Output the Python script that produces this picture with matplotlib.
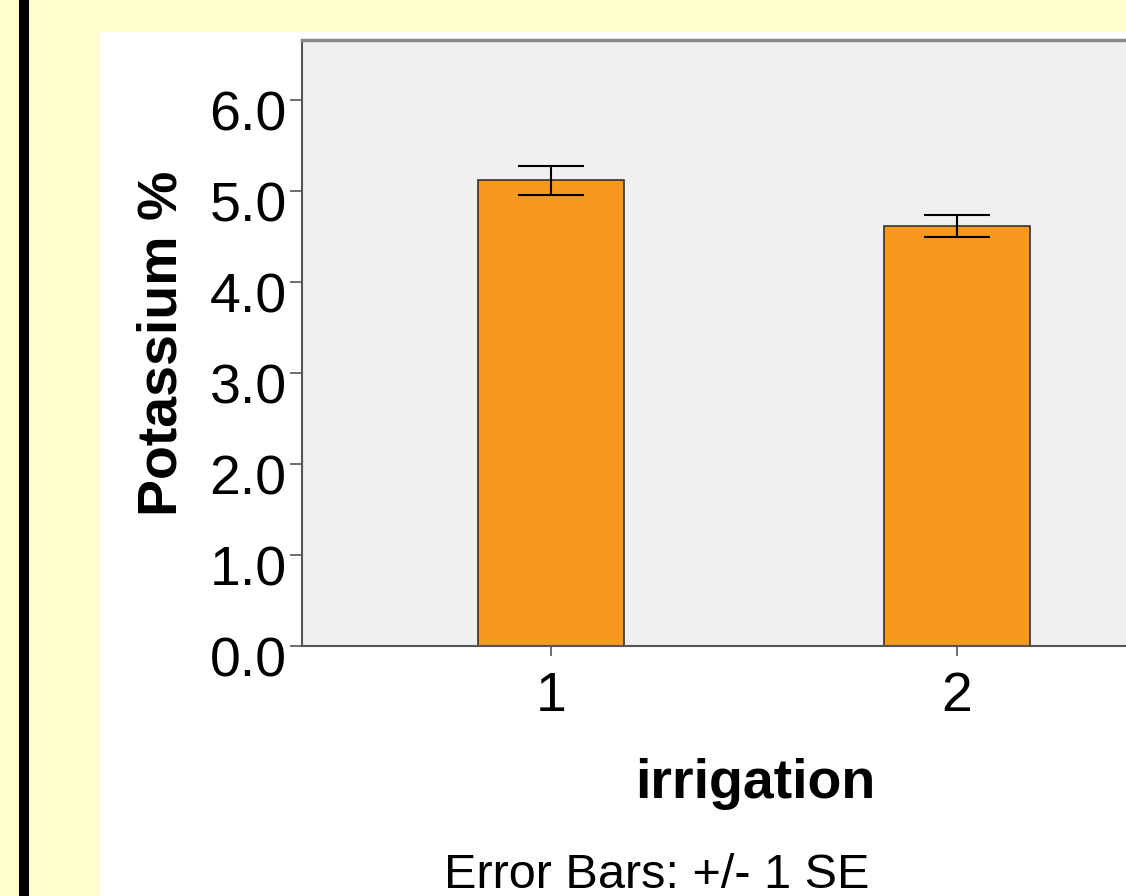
import matplotlib
matplotlib.use("Agg")
import matplotlib.pyplot as plt
from matplotlib.patches import Rectangle
import matplotlib.transforms as mtransforms

categories = ["1", "2"]
means = [5.12, 4.62]
se = [0.16, 0.12]
yticks = [0.0, 1.0, 2.0, 3.0, 4.0, 5.0, 6.0]
ytick_labels = ["0.0", "1.0", "2.0", "3.0", "4.0", "5.0", "6.0"]

W, H = 1126, 896
plt.rcParams["font.family"] = ["Liberation Sans", "DejaVu Sans"]
fig = plt.figure(figsize=(W / 100, H / 100), dpi=100)
fig.patch.set_facecolor("#FFFFCC")

def fx(px):
    return px / W

def fy(py):
    return 1 - py / H

# white panel
fig.patches.append(Rectangle((fx(100), 0), 1.2, fy(32), transform=fig.transFigure,
                             facecolor="white", edgecolor="none", zorder=-3))
# black vertical bar at left
fig.patches.append(Rectangle((fx(19), 0), fx(10), 1, transform=fig.transFigure,
                             facecolor="black", edgecolor="none", zorder=-2))

ax = fig.add_axes([fx(302), fy(646), fx(1208 - 302), (646 - 40) / H])
ax.set_zorder(1)
ax.set_facecolor("#F0F0F0")

x = [1, 2]
ax.bar(x, means, width=0.36, color="#F8991D", edgecolor="#333333", linewidth=1.2, zorder=2)
ax.errorbar(x, means, yerr=se, fmt="none", ecolor="black", elinewidth=1.5,
            capsize=24, capthick=1.5, zorder=3)

ax.set_xlim(0.387, 2.618)
ax.set_ylim(0, 6.66)
ax.set_xticks(x)
ax.set_xticklabels(categories)
ax.set_yticks(yticks)
ax.set_yticklabels(ytick_labels)

for s in ["left", "bottom", "top", "right"]:
    ax.spines[s].set_color("#555555")
    ax.spines[s].set_linewidth(1.5)
ax.spines["top"].set_color("#888888")
ax.spines["top"].set_linewidth(2.5)

ax.tick_params(axis="y", direction="out", length=9, width=1.2, color="#555555",
               labelsize=40, pad=2)
ax.tick_params(axis="x", direction="out", length=7, width=1.2, color="#555555",
               labelsize=40, pad=11)

offset = mtransforms.ScaledTranslation(0, -10 / 100, fig.dpi_scale_trans)
for lab in ax.get_yticklabels():
    lab.set_transform(lab.get_transform() + offset)

ax.set_ylabel("Potassium %", fontsize=40, fontweight="bold", labelpad=15)
ax.set_xlabel("irrigation", fontsize=40, fontweight="bold", labelpad=25)

fig.text(fx(657), fy(875), "Error Bars: +/- 1 SE", fontsize=35, ha="center", va="center")

fig.savefig("out.png", dpi=100, facecolor=fig.get_facecolor())
